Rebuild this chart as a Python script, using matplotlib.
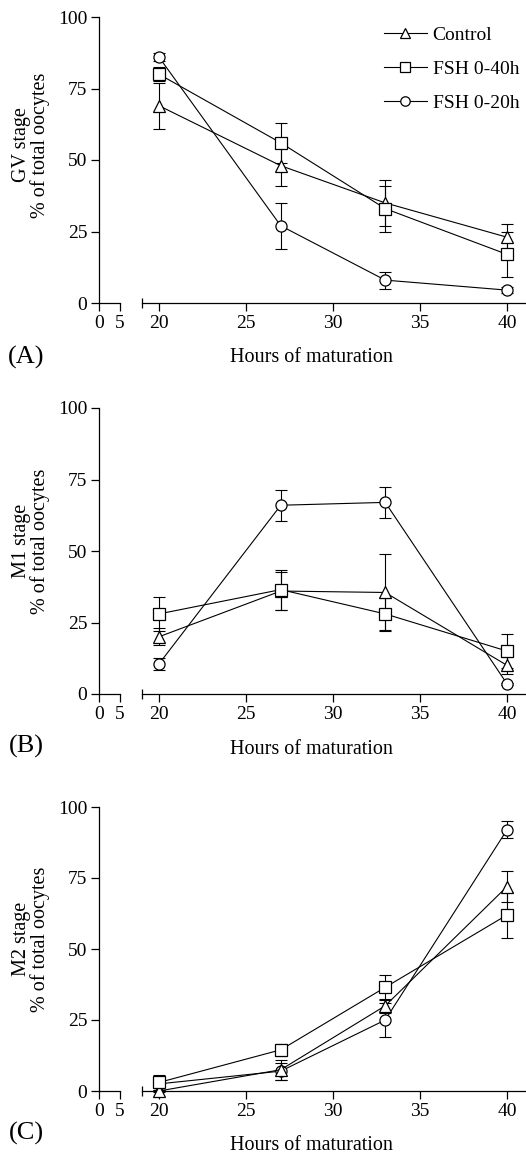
import matplotlib
matplotlib.use("Agg")
import matplotlib.pyplot as plt
from matplotlib.ticker import FixedLocator

plt.rcParams["font.family"] = ["Liberation Serif", "DejaVu Serif"]

# ── data ─────────────────────────────────────────────────────────────────────
hours = [20, 27, 33, 40]
series = ["Control", "FSH 0-40h", "FSH 0-20h"]

gv_ctrl      = [69, 48, 35, 23]
gv_ctrl_err  = [8, 7, 8, 4.5]
gv_fsh40     = [80, 56, 33, 17]
gv_fsh40_err = [2.5, 7, 8, 8]
gv_fsh20     = [86, 27, 8, 4.5]
gv_fsh20_err = [1.5, 8, 3, 1]

m1_ctrl      = [20, 36, 35.5, 10]
m1_ctrl_err  = [3, 6.5, 13.5, 3]
m1_fsh40     = [28, 36.5, 28, 15]
m1_fsh40_err = [6, 7, 5.5, 6]
m1_fsh20     = [10.5, 66, 67, 3.5]
m1_fsh20_err = [2, 5.5, 5.5, 0.5]

m2_ctrl      = [0, 7.5, 30, 72]
m2_ctrl_err  = [0.5, 3.5, 2.5, 5.5]
m2_fsh40     = [3, 14.5, 36.5, 62]
m2_fsh40_err = [2.5, 2, 4.5, 8]
m2_fsh20     = [2.5, 7, 25, 92]
m2_fsh20_err = [1, 3, 6, 3]

y_ticks = [0, 25, 50, 75, 100]
x_ticks = [20, 25, 30, 35, 40]
stage_labels = ["GV stage", "M1 stage", "M2 stage"]
panel_tags = ["(A)", "(B)", "(C)"]

markers = ["^", "s", "o"]
marker_z = [4, 5, 3]   # square drawn over triangle, circle underneath

# ── layout (pixels) ──────────────────────────────────────────────────────────
W, H = 526, 1156
panel_top = [17, 408, 807]
panel_bot = [303, 694, 1091]
ylab_y  = [145, 541, 939]
xlab_y  = [357, 749, 1145]
tag_y   = [357, 746, 1133]
FS = 14


def _axes(fig, x0, x1, ytop, ybot):
    return fig.add_axes([x0 / W, 1 - ybot / H, (x1 - x0) / W, (ybot - ytop) / H])


fig = plt.figure(figsize=(W / 100, H / 100), dpi=100)

panels = [
    [(gv_ctrl, gv_ctrl_err), (gv_fsh40, gv_fsh40_err), (gv_fsh20, gv_fsh20_err)],
    [(m1_ctrl, m1_ctrl_err), (m1_fsh40, m1_fsh40_err), (m1_fsh20, m1_fsh20_err)],
    [(m2_ctrl, m2_ctrl_err), (m2_fsh40, m2_fsh40_err), (m2_fsh20, m2_fsh20_err)],
]

for p, data in enumerate(panels):
    top, bot = panel_top[p], panel_bot[p]

    # short segment 0-5 carrying the y axis
    ax_l = _axes(fig, 99, 120, top, bot)
    ax_l.set_xlim(0, 5)
    ax_l.set_ylim(0, 100)
    for s in ["top", "right"]:
        ax_l.spines[s].set_visible(False)
    ax_l.set_xticks([0, 5])
    ax_l.xaxis.set_minor_locator(FixedLocator([5]))
    ax_l.set_yticks(y_ticks)
    ax_l.tick_params(axis="both", which="major", direction="out", length=5.5,
                     width=0.9, labelsize=FS, pad=3)
    ax_l.tick_params(axis="x", which="minor", direction="inout", length=7.5, width=0.9)
    ax_l.patch.set_alpha(0)

    # main segment 19-41
    ax = _axes(fig, 141.5, 524.5, top, bot)
    ax.set_xlim(19, 41)
    ax.set_ylim(0, 100)
    for s in ["top", "right", "left"]:
        ax.spines[s].set_visible(False)
    ax.set_yticks([])
    ax.set_xticks(x_ticks)
    ax.xaxis.set_minor_locator(FixedLocator([19]))
    ax.tick_params(axis="x", which="major", direction="out", length=5.5,
                   width=0.9, labelsize=FS, pad=3)
    ax.tick_params(axis="x", which="minor", direction="inout", length=7.5, width=0.9)
    ax.patch.set_alpha(0)
    for a in (ax, ax_l):
        for s in a.spines.values():
            s.set_linewidth(0.9)

    for k, (vals, err) in enumerate(data):
        ax.errorbar(hours, vals, yerr=err, fmt="none", ecolor="black",
                    elinewidth=0.8, capsize=4.5, capthick=0.8, zorder=2,
                    clip_on=False)
        ax.plot(hours, vals, color="black", lw=0.8, marker=markers[k],
                markersize=8, mfc="white", mec="black", mew=0.9,
                label=series[k], zorder=marker_z[k], clip_on=False)

    fig.text(31 / W, 1 - ylab_y[p] / H, f"{stage_labels[p]}\n% of total oocytes",
             rotation=90, ha="center", va="center", multialignment="center",
             fontsize=14.5, linespacing=1.0)
    fig.text(311 / W, 1 - xlab_y[p] / H, "Hours of maturation",
             ha="center", va="center", fontsize=14.5)
    fig.text(26 / W, 1 - tag_y[p] / H, panel_tags[p],
             ha="center", va="center", fontsize=19)

    if p == 0:
        ax.legend(loc="upper left", bbox_to_anchor=(384 / W, 1 - 26 / H),
                  bbox_transform=fig.transFigure, frameon=False, fontsize=FS,
                  handlelength=2.2, handletextpad=0.3, borderpad=0,
                  borderaxespad=0, labelspacing=0.85, numpoints=1,
                  markerscale=0.85)

fig.savefig("out.png", dpi=100)
